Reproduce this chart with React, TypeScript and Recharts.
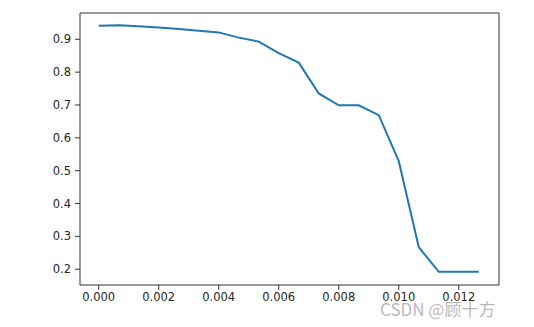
import React from "react";
import { LineChart, Line, XAxis, YAxis, ReferenceLine } from "recharts";

const xValues = [
  0, 0.000667, 0.001333, 0.002, 0.002667, 0.003333, 0.004, 0.004667, 0.005333, 0.006,
  0.006667, 0.007333, 0.008, 0.008667, 0.009333, 0.01, 0.010667, 0.011333, 0.012, 0.012667,
];
const yValues = [
  0.941, 0.943, 0.94, 0.936, 0.931, 0.926, 0.921, 0.905, 0.893, 0.858,
  0.829, 0.735, 0.699, 0.699, 0.669, 0.529, 0.267, 0.192, 0.192, 0.192,
];
const xTicks = [0, 0.002, 0.004, 0.006, 0.008, 0.01, 0.012];
const yTicks = [0.2, 0.3, 0.4, 0.5, 0.6, 0.7, 0.8, 0.9];
const xDomain = [-0.000623, 0.01334];
const yDomain = [0.152, 0.98];

const data = xValues.map((x, i) => ({ x, y: yValues[i] }));

const axisColor = "#333333";
const tickStyle = { fontFamily: "DejaVu Sans", fontSize: 11.5, fill: "#262626" };

export default function App() {
  return (
    <div style={{ position: "relative", width: 526, height: 319 }}>
      <LineChart
        width={526}
        height={319}
        data={data}
        margin={{ top: 5, right: 35, bottom: 12, left: 0 }}
      >
        <XAxis
          dataKey="x"
          type="number"
          domain={xDomain}
          ticks={xTicks}
          tickFormatter={(v: number) => v.toFixed(3)}
          allowDataOverflow
          height={30}
          tickSize={5}
          tickMargin={3}
          stroke={axisColor}
          tick={tickStyle}
          tickLine={{ stroke: axisColor }}
          axisLine={{ stroke: axisColor }}
        />
        <YAxis
          type="number"
          domain={yDomain}
          ticks={yTicks}
          tickFormatter={(v: number) => v.toFixed(1)}
          allowDataOverflow
          width={72}
          tickSize={5}
          tickMargin={4}
          stroke={axisColor}
          tick={tickStyle}
          tickLine={{ stroke: axisColor }}
          axisLine={{ stroke: axisColor }}
        />
        <ReferenceLine y={yDomain[1]} stroke={axisColor} ifOverflow="extendDomain" />
        <ReferenceLine x={xDomain[1]} stroke={axisColor} ifOverflow="extendDomain" />
        <Line
          dataKey="y"
          stroke="#1f77b4"
          strokeWidth={2}
          dot={false}
          isAnimationActive={false}
        />
      </LineChart>
      <div
        style={{
          position: "absolute",
          left: 372,
          top: 291,
          fontFamily: "Noto Sans CJK SC",
          fontSize: 17,
          color: "rgba(160,160,160,0.75)",
          lineHeight: "20px",
          whiteSpace: "nowrap",
        }}
      >
        CSDN @顾十方
      </div>
    </div>
  );
}
